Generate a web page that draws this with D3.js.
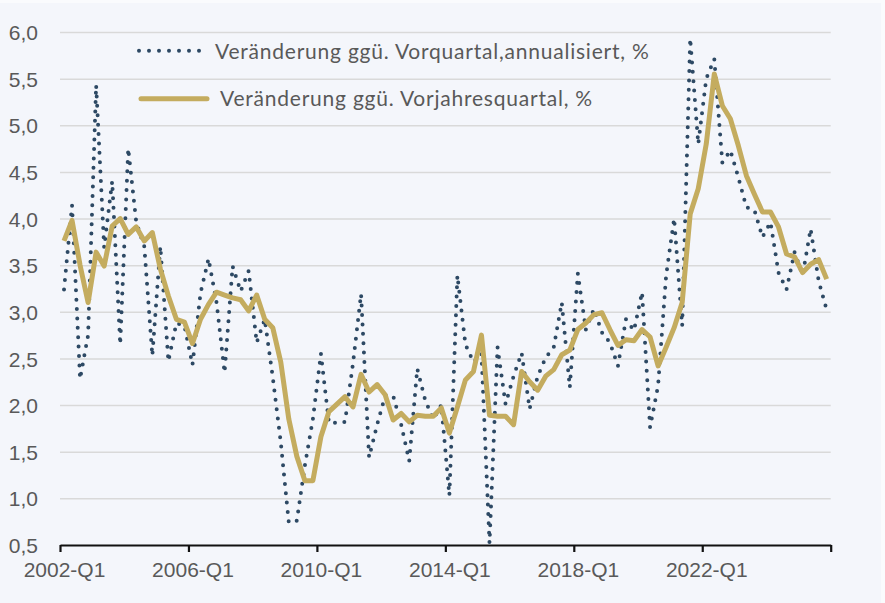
<!DOCTYPE html>
<html>
<head>
<meta charset="utf-8">
<script src="https://cdn.jsdelivr.net/npm/d3@7"></script>
<style>
  html, body { margin: 0; padding: 0; background: #fafbfd; }
  svg { display: block; font-family: Lato, "Open Sans", sans-serif; }
</style>
</head>
<body>
<script>
// quarters 2002-Q1 .. 2025-Q4
const years = d3.range(2002, 2026)
const quarters = years.flatMap(y => [1, 2, 3, 4].map(q => y + '-Q' + q))

// Veränderung ggü. Vorquartal, annualisiert, %
const qoq = [
  3.24, 4.14, 2.28, 2.75, 5.43, 3.69, 4.40, 2.65, 4.75, 3.96, 3.70, 2.53, 3.70, 2.47, 2.88, 2.85,
  2.43, 3.20, 3.57, 3.10, 2.35, 3.49, 3.22, 3.44, 2.67, 2.92, 2.30, 1.60, 0.74, 0.76, 1.35, 1.85,
  2.55, 1.81, 1.81, 1.82, 2.45, 3.19, 1.44, 1.79, 2.10, 2.10, 1.79, 1.40, 2.39, 2.05, 1.85, 2.00,
  1.03, 3.39, 2.65, 2.46, 2.55, 0.52, 2.62, 2.01, 2.31, 2.56, 1.96, 2.31, 2.51, 2.62, 3.10, 2.19,
  3.41, 2.81, 3.03, 2.78, 2.67, 2.42, 2.92, 2.80, 3.21, 1.76, 2.21, 3.39, 4.00, 2.85, 5.93, 4.80,
  5.50, 5.71, 4.60, 4.73, 4.44, 4.12, 4.09, 3.80, 3.96, 3.42, 3.24, 3.64, 3.39, 3.89, 3.33, 3.02
]

// Veränderung ggü. Vorjahresquartal, %
const yoy = [
  3.76, 3.98, 3.50, 3.10, 3.64, 3.49, 3.92, 4.00, 3.83, 3.91, 3.76, 3.85, 3.46, 3.17, 2.92, 2.89,
  2.66, 2.92, 3.08, 3.21, 3.18, 3.15, 3.13, 3.01, 3.18, 2.92, 2.83, 2.46, 1.85, 1.45, 1.19, 1.19,
  1.66, 1.93, 2.01, 2.09, 1.98, 2.33, 2.14, 2.22, 2.11, 1.84, 1.91, 1.82, 1.89, 1.88, 1.88, 1.97,
  1.70, 1.98, 2.27, 2.36, 2.75, 1.89, 1.88, 1.88, 1.79, 2.36, 2.25, 2.16, 2.31, 2.38, 2.54, 2.59,
  2.81, 2.88, 2.97, 2.99, 2.81, 2.64, 2.70, 2.69, 2.81, 2.73, 2.42, 2.62, 2.83, 3.10, 4.05, 4.32,
  4.80, 5.55, 5.21, 5.07, 4.78, 4.46, 4.26, 4.07, 4.07, 3.91, 3.62, 3.59, 3.42, 3.51, 3.56, 3.35
]

const yTicks = d3.range(0.5, 6.01, 0.5)
const xLabelEvery = 16
const legendLabels = [
  'Veränderung ggü. Vorquartal,annualisiert, %',
  'Veränderung ggü. Vorjahresquartal, %'
]

const W = 885, H = 603
const mLeft = 60, mRight = 830.7, mTop = 32, mBottom = 545
const navy = '#2d4964', gold = '#c4ac5f', txt = '#595959'

const svg = d3.select('body').append('svg')
  .attr('width', W).attr('height', H)

svg.append('rect').attr('y', 3).attr('width', 881).attr('height', H - 3).attr('fill', '#f4f6fb')

const x = d3.scaleBand().domain(quarters).range([mLeft, mRight]).padding(0)
const xIdx = d3.scaleLinear().domain([0, quarters.length]).range([mLeft, mRight])
const y = d3.scaleLinear().domain([0.5, 6]).range([mBottom, mTop])
const cx = q => x(q) + x.bandwidth() / 2

const de = d3.formatLocale({ decimal: ',', thousands: '.', grouping: [3], currency: ['', ' €'] })
const fmt = de.format('.1f')

// gridlines + y labels
const yAxis = svg.append('g')
  .attr('transform', `translate(${mLeft},0)`)
  .call(d3.axisLeft(y).tickValues(yTicks).tickFormat(fmt).tickSize(-(mRight - mLeft)).tickPadding(22))
yAxis.select('.domain').remove()
yAxis.selectAll('.tick line')
  .attr('stroke', '#d9d9d9').attr('stroke-width', 1.5)
  .filter(d => d === 0.5).remove()
yAxis.selectAll('text')
  .attr('fill', txt).style('font-size', '21px').attr('dy', '0.36em')

// x axis
const xAxis = svg.append('g')
  .attr('transform', `translate(0,${mBottom})`)
  .call(d3.axisBottom(xIdx)
    .tickValues(d3.range(0, quarters.length + 1, xLabelEvery))
    .tickFormat(i => i < quarters.length ? quarters[i] : '')
    .tickSize(7).tickSizeOuter(0).tickPadding(10))
xAxis.select('.domain').attr('stroke', '#111').attr('stroke-width', 2.2)
xAxis.selectAll('.tick line').attr('stroke', '#111').attr('stroke-width', 2.2)
xAxis.selectAll('text')
  .attr('x', x.bandwidth() / 2)
  .attr('fill', txt).style('font-size', '21px')

const line = d3.line().x((d, i) => cx(quarters[i])).y(d => y(d))

svg.append('path').datum(qoq)
  .attr('d', line)
  .attr('fill', 'none').attr('stroke', navy)
  .attr('stroke-width', 4).attr('stroke-linecap', 'round')
  .attr('stroke-dasharray', '0 9.4')

svg.append('path').datum(yoy)
  .attr('d', line)
  .attr('fill', 'none').attr('stroke', gold)
  .attr('stroke-width', 5).attr('stroke-linejoin', 'round')

// legend
const lg = svg.append('g')
lg.append('line').attr('x1', 139).attr('x2', 200).attr('y1', 50.7).attr('y2', 50.7)
  .attr('stroke', navy).attr('stroke-width', 4).attr('stroke-linecap', 'round')
  .attr('stroke-dasharray', '0 10')
lg.append('text').attr('x', 215).attr('y', 59).text(legendLabels[0])
  .attr('fill', txt).style('font-size', '21px').style('letter-spacing', '0.78px')
lg.append('line').attr('x1', 141).attr('x2', 207).attr('y1', 98.7).attr('y2', 98.7)
  .attr('stroke', gold).attr('stroke-width', 5).attr('stroke-linecap', 'round')
lg.append('text').attr('x', 220).attr('y', 106).text(legendLabels[1])
  .attr('fill', txt).style('font-size', '21px').style('letter-spacing', '0.78px')
</script>
</body>
</html>
